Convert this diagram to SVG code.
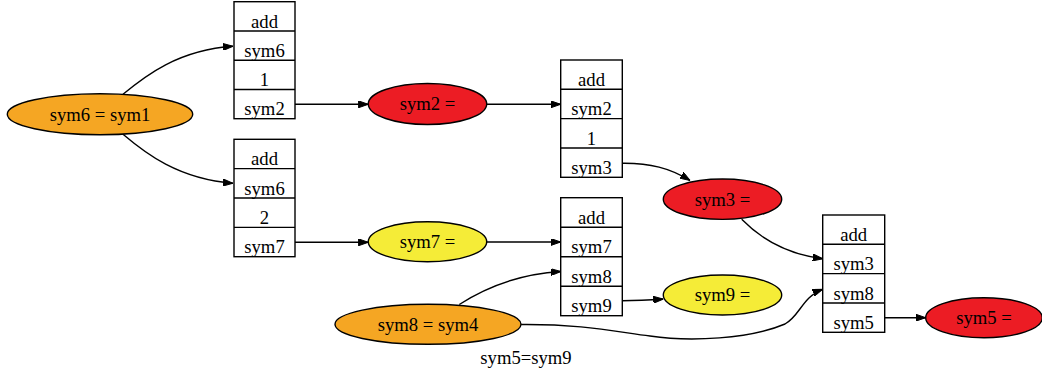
<svg xmlns="http://www.w3.org/2000/svg" width="1042" height="374" viewBox="0 0 1042 374">
<style>
text{font-family:"Liberation Serif","Times New Roman",serif;font-size:18.67px;fill:#000;text-anchor:middle}
.rec rect,.rec line{fill:#fff;stroke:#000;stroke-width:1.4}
.rec line{fill:none}
ellipse{stroke:#000;stroke-width:1.4}
.or{fill:#f5a623}
.rd{fill:#ec1c24}
.yl{fill:#f5ec37}
.edge path{fill:none;stroke:#000;stroke-width:1.4;marker-end:url(#ah)}
</style>
<defs>
<marker id="ah" viewBox="0 0 10 7" refX="10" refY="3.5" markerWidth="10" markerHeight="7" markerUnits="userSpaceOnUse" orient="auto">
<path d="M0,0 L10,3.5 L0,7 z" fill="#000" stroke="#000" stroke-width="1"/>
</marker>
</defs>
<rect width="1042" height="374" fill="#fff"/>

<g id="edges" class="edge">
<path d="M123,94.3 C145,76 178,50 233,46.3"/>
<path d="M123,134.3 C145,153 178,179 233,183.3"/>
<path d="M295,104.3 L368.3,104.3"/>
<path d="M295,242.3 L368.3,242.3"/>
<path d="M486.7,104.3 L560.7,104.3"/>
<path d="M486.7,242 L560.7,242"/>
<path d="M622.3,163.3 C650,163 670,168 690,180.5"/>
<path d="M741.7,219.3 C760,238 785,254 822.7,258.7"/>
<path d="M459.3,304.5 C485,288 520,274 560.7,271.5"/>
<path d="M622.3,300.7 C638,300.7 650,300 663.3,299"/>
<path d="M521,324.5 C580,324 612,331 650,336 C690,342 750,339 785,324 C800,316 802,297 822.7,289.3"/>
<path d="M884.7,317.7 L925.7,317.7"/>
</g>

<g id="n_sym6_sym1"><ellipse class="or" cx="100" cy="114.3" rx="92.7" ry="20.5"/><text x="100" y="120.5">sym6 = sym1</text></g>

<g id="n_add1" class="rec">
<rect x="234" y="1.7" width="61" height="117"/>
<line x1="234" y1="30.95" x2="295" y2="30.95"/>
<line x1="234" y1="60.2" x2="295" y2="60.2"/>
<line x1="234" y1="89.45" x2="295" y2="89.45"/>
<text x="264.5" y="27.7">add</text>
<text x="264.5" y="57">sym6</text>
<text x="264.5" y="86.2">1</text>
<text x="264.5" y="115.4">sym2</text>
</g>

<g id="n_add2" class="rec">
<rect x="234" y="139.3" width="61" height="117.4"/>
<line x1="234" y1="168.65" x2="295" y2="168.65"/>
<line x1="234" y1="198" x2="295" y2="198"/>
<line x1="234" y1="227.35" x2="295" y2="227.35"/>
<text x="264.5" y="165.4">add</text>
<text x="264.5" y="194.7">sym6</text>
<text x="264.5" y="224">2</text>
<text x="264.5" y="253.4">sym7</text>
</g>

<g id="n_sym2"><ellipse class="rd" cx="427.5" cy="104" rx="59.2" ry="20.5"/><text x="427.5" y="110.3">sym2 =</text></g>
<g id="n_sym7"><ellipse class="yl" cx="427.5" cy="241.7" rx="59.2" ry="20"/><text x="427.5" y="248">sym7 =</text></g>
<g id="n_sym8_sym4"><ellipse class="or" cx="428" cy="324.3" rx="93" ry="20"/><text x="428" y="330.6">sym8 = sym4</text></g>
<text id="lbl" x="526" y="364">sym5=sym9</text>

<g id="n_add3" class="rec">
<rect x="560.7" y="60" width="61.6" height="117.3"/>
<line x1="560.7" y1="89.3" x2="622.3" y2="89.3"/>
<line x1="560.7" y1="118.65" x2="622.3" y2="118.65"/>
<line x1="560.7" y1="148" x2="622.3" y2="148"/>
<text x="591.5" y="86">add</text>
<text x="591.5" y="115.4">sym2</text>
<text x="591.5" y="144.7">1</text>
<text x="591.5" y="174">sym3</text>
</g>

<g id="n_add4" class="rec">
<rect x="560.7" y="197.7" width="61.6" height="118"/>
<line x1="560.7" y1="227.2" x2="622.3" y2="227.2"/>
<line x1="560.7" y1="256.7" x2="622.3" y2="256.7"/>
<line x1="560.7" y1="286.2" x2="622.3" y2="286.2"/>
<text x="591.5" y="223.9">add</text>
<text x="591.5" y="253.4">sym7</text>
<text x="591.5" y="282.9">sym8</text>
<text x="591.5" y="312.4">sym9</text>
</g>

<g id="n_sym3"><ellipse class="rd" cx="722.5" cy="199.2" rx="59.2" ry="20.2"/><text x="722.5" y="205.5">sym3 =</text></g>
<g id="n_sym9"><ellipse class="yl" cx="722.5" cy="295" rx="59.2" ry="20"/><text x="722.5" y="301.3">sym9 =</text></g>

<g id="n_add5" class="rec">
<rect x="822.7" y="215" width="62" height="117.3"/>
<line x1="822.7" y1="244.3" x2="884.7" y2="244.3"/>
<line x1="822.7" y1="273.65" x2="884.7" y2="273.65"/>
<line x1="822.7" y1="303" x2="884.7" y2="303"/>
<text x="853.7" y="241">add</text>
<text x="853.7" y="270.4">sym3</text>
<text x="853.7" y="299.7">sym8</text>
<text x="853.7" y="329">sym5</text>
</g>

<g id="n_sym5"><ellipse class="rd" cx="984" cy="317.7" rx="58.3" ry="20"/><text x="984" y="324">sym5 =</text></g>
</svg>
